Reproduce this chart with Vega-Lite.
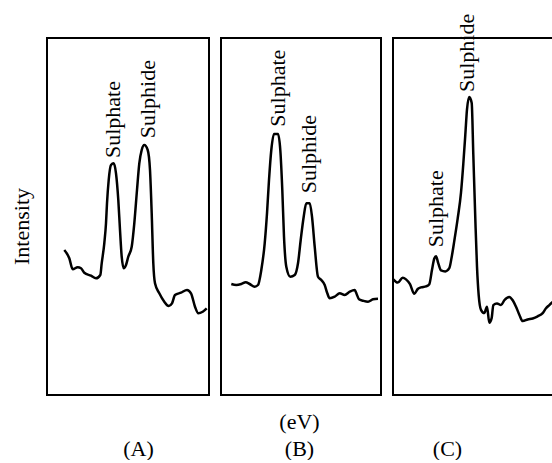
{
  "$schema": "https://vega.github.io/schema/vega-lite/v6.json",
  "autosize": {"type": "pad"},
  "padding": {"left": 9, "top": 12, "right": 0, "bottom": 0},
  "background": "white",
  "spacing": 12,
  "bounds": "flush",
  "config": {
    "view": {"stroke": "black", "strokeWidth": 2},
    "font": "Liberation Serif",
    "axis": {"domain": false, "ticks": false, "labels": false, "grid": false, "titleFont": "Liberation Serif", "titleFontSize": 22, "titleFontWeight": "normal", "titleColor": "black"}
  },
  "datasets": {
    "curves": [
      {"panel": "A", "x": 17.3, "intensity": 145}, {"panel": "A", "x": 22.3, "intensity": 136.7}, {"panel": "A", "x": 25.7, "intensity": 125.7}, {"panel": "A", "x": 30.7, "intensity": 127.7}, {"panel": "A", "x": 34, "intensity": 126.7}, {"panel": "A", "x": 37.3, "intensity": 122.3}, {"panel": "A", "x": 44, "intensity": 119.3}, {"panel": "A", "x": 49, "intensity": 116.7}, {"panel": "A", "x": 53.3, "intensity": 120}, {"panel": "A", "x": 54.7, "intensity": 131.7}, {"panel": "A", "x": 57.3, "intensity": 151.7}, {"panel": "A", "x": 59, "intensity": 171.7}, {"panel": "A", "x": 60, "intensity": 191.7}, {"panel": "A", "x": 61.7, "intensity": 215}, {"panel": "A", "x": 64, "intensity": 230}, {"panel": "A", "x": 66.7, "intensity": 231.7}, {"panel": "A", "x": 69, "intensity": 221.7}, {"panel": "A", "x": 71.3, "intensity": 195}, {"panel": "A", "x": 73, "intensity": 165}, {"panel": "A", "x": 74.7, "intensity": 138.3}, {"panel": "A", "x": 76.7, "intensity": 126.7}, {"panel": "A", "x": 79, "intensity": 130}, {"panel": "A", "x": 81.3, "intensity": 138.3}, {"panel": "A", "x": 84.7, "intensity": 148.3}, {"panel": "A", "x": 87.3, "intensity": 171.7}, {"panel": "A", "x": 90, "intensity": 205}, {"panel": "A", "x": 92.3, "intensity": 231.7}, {"panel": "A", "x": 94.7, "intensity": 245}, {"panel": "A", "x": 97.3, "intensity": 250}, {"panel": "A", "x": 100.7, "intensity": 245}, {"panel": "A", "x": 103, "intensity": 225}, {"panel": "A", "x": 104.7, "intensity": 181.7}, {"panel": "A", "x": 106.3, "intensity": 131.7}, {"panel": "A", "x": 108, "intensity": 111.7}, {"panel": "A", "x": 112.3, "intensity": 101.7}, {"panel": "A", "x": 117.3, "intensity": 93.3}, {"panel": "A", "x": 121.7, "intensity": 89}, {"panel": "A", "x": 125, "intensity": 91.7}, {"panel": "A", "x": 128, "intensity": 100}, {"panel": "A", "x": 134, "intensity": 102.3}, {"panel": "A", "x": 140, "intensity": 105}, {"panel": "A", "x": 144, "intensity": 101.7}, {"panel": "A", "x": 148, "intensity": 88.3}, {"panel": "A", "x": 151.3, "intensity": 81.7}, {"panel": "A", "x": 155.7, "intensity": 83.3}, {"panel": "A", "x": 159.7, "intensity": 86.7},
      {"panel": "B", "x": 10.3, "intensity": 111}, {"panel": "B", "x": 15.3, "intensity": 110}, {"panel": "B", "x": 20.3, "intensity": 111}, {"panel": "B", "x": 24.7, "intensity": 112.7}, {"panel": "B", "x": 28.7, "intensity": 111}, {"panel": "B", "x": 33.7, "intensity": 108.3}, {"panel": "B", "x": 37, "intensity": 110}, {"panel": "B", "x": 40.3, "intensity": 125}, {"panel": "B", "x": 43.7, "intensity": 151.7}, {"panel": "B", "x": 46, "intensity": 181.7}, {"panel": "B", "x": 48, "intensity": 215}, {"panel": "B", "x": 50.3, "intensity": 245}, {"panel": "B", "x": 53, "intensity": 261}, {"panel": "B", "x": 57, "intensity": 261}, {"panel": "B", "x": 59.3, "intensity": 245}, {"panel": "B", "x": 61.3, "intensity": 205}, {"panel": "B", "x": 63, "intensity": 158.3}, {"panel": "B", "x": 65.3, "intensity": 128.3}, {"panel": "B", "x": 69.3, "intensity": 118.3}, {"panel": "B", "x": 73.7, "intensity": 120}, {"panel": "B", "x": 77, "intensity": 131.7}, {"panel": "B", "x": 79.7, "intensity": 155}, {"panel": "B", "x": 82.7, "intensity": 178.3}, {"panel": "B", "x": 85.3, "intensity": 191.7}, {"panel": "B", "x": 88.7, "intensity": 191.7}, {"panel": "B", "x": 91, "intensity": 178.3}, {"panel": "B", "x": 93.7, "intensity": 148.3}, {"panel": "B", "x": 97, "intensity": 118.3}, {"panel": "B", "x": 100.3, "intensity": 115}, {"panel": "B", "x": 103.7, "intensity": 110}, {"panel": "B", "x": 106.3, "intensity": 101.7}, {"panel": "B", "x": 108.7, "intensity": 96.7}, {"panel": "B", "x": 113.7, "intensity": 98.3}, {"panel": "B", "x": 118.7, "intensity": 101.7}, {"panel": "B", "x": 123.7, "intensity": 100}, {"panel": "B", "x": 128.7, "intensity": 103.3}, {"panel": "B", "x": 133.7, "intensity": 105}, {"panel": "B", "x": 136, "intensity": 100}, {"panel": "B", "x": 138, "intensity": 95.7}, {"panel": "B", "x": 142, "intensity": 94.3}, {"panel": "B", "x": 147, "intensity": 93.3}, {"panel": "B", "x": 152, "intensity": 95.7}, {"panel": "B", "x": 157, "intensity": 96.3},
      {"panel": "C", "x": 0.3, "intensity": 115.6}, {"panel": "C", "x": 4.7, "intensity": 112.4}, {"panel": "C", "x": 9.7, "intensity": 117.2}, {"panel": "C", "x": 13, "intensity": 115.6}, {"panel": "C", "x": 17, "intensity": 110.8}, {"panel": "C", "x": 21.3, "intensity": 101.2}, {"panel": "C", "x": 24.7, "intensity": 106}, {"panel": "C", "x": 28, "intensity": 107.6}, {"panel": "C", "x": 33, "intensity": 108.6}, {"panel": "C", "x": 36.3, "intensity": 110.8}, {"panel": "C", "x": 39, "intensity": 125.2}, {"panel": "C", "x": 41.3, "intensity": 136.5}, {"panel": "C", "x": 43, "intensity": 138.7}, {"panel": "C", "x": 45.3, "intensity": 131.7}, {"panel": "C", "x": 48, "intensity": 124.6}, {"panel": "C", "x": 52.3, "intensity": 123.6}, {"panel": "C", "x": 56.3, "intensity": 126.8}, {"panel": "C", "x": 58.7, "intensity": 138.1}, {"panel": "C", "x": 61.3, "intensity": 154.1}, {"panel": "C", "x": 64.7, "intensity": 176.6}, {"panel": "C", "x": 68, "intensity": 202.3}, {"panel": "C", "x": 70.3, "intensity": 231.2}, {"panel": "C", "x": 72.3, "intensity": 260.1}, {"panel": "C", "x": 74, "intensity": 285.7}, {"panel": "C", "x": 76.3, "intensity": 298}, {"panel": "C", "x": 78.7, "intensity": 292}, {"panel": "C", "x": 80.3, "intensity": 240.8}, {"panel": "C", "x": 82.3, "intensity": 176.6}, {"panel": "C", "x": 84, "intensity": 128.4}, {"panel": "C", "x": 85.7, "intensity": 99.6}, {"panel": "C", "x": 88, "intensity": 85.1}, {"panel": "C", "x": 91.3, "intensity": 81.9}, {"panel": "C", "x": 94, "intensity": 88.3}, {"panel": "C", "x": 96.3, "intensity": 72.3}, {"panel": "C", "x": 98.7, "intensity": 77.1}, {"panel": "C", "x": 100.3, "intensity": 89.9}, {"panel": "C", "x": 104, "intensity": 91.5}, {"panel": "C", "x": 108, "intensity": 89.9}, {"panel": "C", "x": 111.3, "intensity": 94.7}, {"panel": "C", "x": 116.3, "intensity": 98}, {"panel": "C", "x": 119.7, "intensity": 94.7}, {"panel": "C", "x": 123, "intensity": 88.3}, {"panel": "C", "x": 126.3, "intensity": 80.3}, {"panel": "C", "x": 129.7, "intensity": 73.9}, {"panel": "C", "x": 134.7, "intensity": 75.5}, {"panel": "C", "x": 139.7, "intensity": 76.5}, {"panel": "C", "x": 144.7, "intensity": 78.7}, {"panel": "C", "x": 149.7, "intensity": 81.9}, {"panel": "C", "x": 153, "intensity": 86.7}, {"panel": "C", "x": 156.3, "intensity": 89.9}, {"panel": "C", "x": 159.7, "intensity": 93.1}
    ],
    "labels": [
      {"panel": "A", "label": "Sulphate", "x": 65.7, "intensity": 237},
      {"panel": "A", "label": "Sulphide", "x": 101.3, "intensity": 256.7},
      {"panel": "B", "label": "Sulphate", "x": 57, "intensity": 268.3},
      {"panel": "B", "label": "Sulphide", "x": 87.7, "intensity": 201.7},
      {"panel": "C", "label": "Sulphate", "x": 43, "intensity": 147.7},
      {"panel": "C", "label": "Sulphide", "x": 74.3, "intensity": 303}
    ]
  },
  "hconcat": [
    {
      "width": 162, "height": 357,
      "encoding": {
        "x": {"field": "x", "type": "quantitative", "scale": {"domain": [0, 162]}, "axis": {"title": "(A)", "titleBaseline": "alphabetic", "titleX": 91, "titleY": 60}},
        "y": {"field": "intensity", "type": "quantitative", "scale": {"domain": [0, 357]}, "axis": {"title": "Intensity", "titlePadding": 14, "titleY": 188}}
      },
      "layer": [
        {"data": {"name": "curves"}, "transform": [{"filter": "datum.panel === 'A'"}], "mark": {"type": "line", "color": "black", "strokeWidth": 2.5, "interpolate": "monotone"}},
        {"data": {"name": "labels"}, "transform": [{"filter": "datum.panel === 'A'"}], "mark": {"type": "text", "angle": 270, "align": "left", "baseline": "middle", "fontSize": 22, "font": "Liberation Serif", "color": "black"}, "encoding": {"text": {"field": "label"}}}
      ]
    },
    {
      "width": 160, "height": 357,
      "encoding": {
        "x": {"field": "x", "type": "quantitative", "scale": {"domain": [0, 160]}, "axis": {"title": ["(eV)", "(B)"], "titleLineHeight": 27, "titleBaseline": "alphabetic", "titleX": 78, "titleY": 33}},
        "y": {"field": "intensity", "type": "quantitative", "scale": {"domain": [0, 357]}, "axis": null}
      },
      "layer": [
        {"data": {"name": "curves"}, "transform": [{"filter": "datum.panel === 'B'"}], "mark": {"type": "line", "color": "black", "strokeWidth": 2.5, "interpolate": "monotone"}},
        {"data": {"name": "labels"}, "transform": [{"filter": "datum.panel === 'B'"}], "mark": {"type": "text", "angle": 270, "align": "left", "baseline": "middle", "fontSize": 22, "font": "Liberation Serif", "color": "black"}, "encoding": {"text": {"field": "label"}}}
      ]
    },
    {
      "width": 160, "height": 357,
      "encoding": {
        "x": {"field": "x", "type": "quantitative", "scale": {"domain": [0, 160]}, "axis": {"title": "(C)", "titleBaseline": "alphabetic", "titleX": 54, "titleY": 60}},
        "y": {"field": "intensity", "type": "quantitative", "scale": {"domain": [0, 357]}, "axis": null}
      },
      "layer": [
        {"data": {"name": "curves"}, "transform": [{"filter": "datum.panel === 'C'"}], "mark": {"type": "line", "color": "black", "strokeWidth": 2.5, "interpolate": "monotone"}},
        {"data": {"name": "labels"}, "transform": [{"filter": "datum.panel === 'C'"}], "mark": {"type": "text", "angle": 270, "align": "left", "baseline": "middle", "fontSize": 22, "font": "Liberation Serif", "color": "black"}, "encoding": {"text": {"field": "label"}}}
      ]
    }
  ]
}
